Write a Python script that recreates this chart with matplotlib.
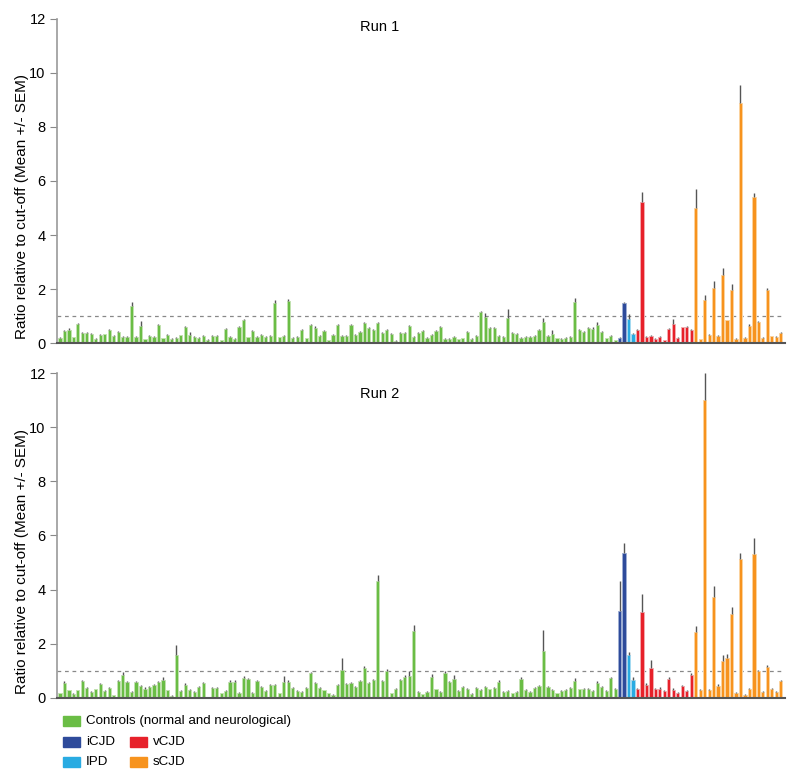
import numpy as np
import matplotlib.pyplot as plt
from matplotlib.patches import Rectangle

plt.rcParams['font.family'] = ['Liberation Sans', 'DejaVu Sans']

# ---- Run 1 ----
run1_controls = [
	0.2, 0.46, 0.5, 0.21, 0.69, 0.36, 0.36, 0.35, 0.16, 0.31,
	0.32, 0.47, 0.27, 0.41, 0.23, 0.22, 1.38, 0.23, 0.62, 0.14,
	0.27, 0.23, 0.67, 0.17, 0.31, 0.16, 0.19, 0.28, 0.58, 0.31,
	0.22, 0.19, 0.26, 0.12, 0.26, 0.26, 0.11, 0.53, 0.22, 0.16,
	0.59, 0.84, 0.21, 0.44, 0.23, 0.3, 0.22, 0.27, 1.49, 0.21,
	0.26, 1.56, 0.19, 0.23, 0.48, 0.17, 0.65, 0.56, 0.26, 0.43,
	0.1, 0.31, 0.67, 0.25, 0.26, 0.65, 0.31, 0.41, 0.73, 0.56,
	0.48, 0.74, 0.36, 0.48, 0.33, 0.09, 0.38, 0.38, 0.64, 0.22,
	0.37, 0.46, 0.19, 0.31, 0.43, 0.6, 0.16, 0.16, 0.23, 0.14,
	0.17, 0.42, 0.15, 0.25, 1.14, 0.95, 0.57, 0.57, 0.26, 0.22,
	0.94, 0.36, 0.35, 0.2, 0.23, 0.22, 0.26, 0.47, 0.79, 0.27,
	0.33, 0.17, 0.15, 0.19, 0.22, 1.51, 0.48, 0.41, 0.56, 0.52,
	0.68, 0.4, 0.17, 0.26, 0.11,
]
run1_controls_sem = [
	0.03, 0.04, 0.04, 0.03, 0.05, 0.03, 0.03, 0.03, 0.02, 0.03,
	0.03, 0.04, 0.03, 0.03, 0.03, 0.03, 0.14, 0.03, 0.21, 0.02,
	0.03, 0.03, 0.04, 0.02, 0.03, 0.02, 0.02, 0.03, 0.05, 0.1,
	0.03, 0.02, 0.03, 0.02, 0.03, 0.03, 0.02, 0.04, 0.03, 0.02,
	0.04, 0.05, 0.03, 0.04, 0.03, 0.03, 0.03, 0.03, 0.12, 0.03,
	0.03, 0.07, 0.02, 0.03, 0.04, 0.02, 0.05, 0.08, 0.03, 0.04,
	0.02, 0.03, 0.04, 0.03, 0.03, 0.04, 0.03, 0.03, 0.05, 0.04,
	0.04, 0.05, 0.03, 0.05, 0.03, 0.02, 0.03, 0.03, 0.04, 0.03,
	0.03, 0.04, 0.02, 0.03, 0.04, 0.04, 0.02, 0.02, 0.03, 0.02,
	0.02, 0.04, 0.02, 0.03, 0.04, 0.15, 0.04, 0.04, 0.03, 0.03,
	0.32, 0.03, 0.03, 0.02, 0.03, 0.03, 0.03, 0.04, 0.14, 0.03,
	0.15, 0.02, 0.02, 0.02, 0.03, 0.14, 0.04, 0.03, 0.05, 0.06,
	0.11, 0.04, 0.02, 0.03, 0.02,
]
run1_icjd = [0.2, 1.48]
run1_icjd_sem = [0.03, 0.03]
run1_ipd = [0.89, 0.32]
run1_ipd_sem = [0.2, 0.04]
run1_vcjd = [0.48, 5.23, 0.22, 0.26, 0.15, 0.22, 0.1, 0.51, 0.7, 0.19, 0.58, 0.6, 0.48]
run1_vcjd_sem = [0.05, 0.38, 0.03, 0.03, 0.02, 0.03, 0.02, 0.05, 0.18, 0.02, 0.03, 0.03, 0.03]
run1_scjd = [5.01, 0.14, 1.59, 0.3, 2.05, 0.26, 2.52, 0.84, 1.98, 0.15,
	8.9, 0.2, 0.62, 5.4, 0.77, 0.2, 1.98, 0.25, 0.23, 0.38]
run1_scjd_sem = [0.69, 0.02, 0.2, 0.03, 0.23, 0.03, 0.26, 0.03, 0.2, 0.02,
	0.65, 0.02, 0.08, 0.14, 0.05, 0.02, 0.05, 0.02, 0.02, 0.03]

# ---- Run 2 ----
run2_controls = [
	0.17, 0.54, 0.28, 0.15, 0.28, 0.62, 0.37, 0.21, 0.32, 0.53,
	0.27, 0.38, 0.1, 0.64, 0.86, 0.58, 0.22, 0.58, 0.44, 0.33,
	0.4, 0.47, 0.58, 0.67, 0.28, 0.09, 1.6, 0.26, 0.49, 0.3,
	0.22, 0.42, 0.54, 0.04, 0.37, 0.36, 0.17, 0.27, 0.6, 0.6,
	0.2, 0.73, 0.69, 0.19, 0.62, 0.41, 0.26, 0.47, 0.47, 0.17,
	0.58, 0.6, 0.37, 0.25, 0.23, 0.36, 0.91, 0.56, 0.38, 0.28,
	0.17, 0.12, 0.47, 1.04, 0.51, 0.54, 0.42, 0.62, 1.11, 0.54,
	0.65, 4.32, 0.64, 1.0, 0.17, 0.35, 0.65, 0.79, 0.83, 2.47,
	0.23, 0.14, 0.22, 0.77, 0.32, 0.23, 0.94, 0.58, 0.69, 0.26,
	0.41, 0.35, 0.16, 0.38, 0.3, 0.4, 0.32, 0.38, 0.6, 0.23,
	0.25, 0.17, 0.21, 0.7, 0.3, 0.22, 0.37, 0.44, 1.75, 0.41,
	0.3, 0.17, 0.27, 0.3, 0.38, 0.62, 0.32, 0.35, 0.33, 0.25,
	0.56, 0.41, 0.25, 0.74, 0.33,
]
run2_controls_sem = [
	0.03, 0.1, 0.03, 0.02, 0.03, 0.04, 0.03, 0.03, 0.03, 0.04,
	0.03, 0.03, 0.02, 0.04, 0.1, 0.04, 0.03, 0.04, 0.04, 0.07,
	0.04, 0.04, 0.05, 0.12, 0.03, 0.02, 0.36, 0.03, 0.08, 0.03,
	0.03, 0.04, 0.04, 0.01, 0.03, 0.03, 0.02, 0.03, 0.05, 0.05,
	0.03, 0.08, 0.04, 0.03, 0.04, 0.04, 0.03, 0.04, 0.04, 0.02,
	0.25, 0.05, 0.03, 0.03, 0.03, 0.03, 0.05, 0.04, 0.04, 0.03,
	0.02, 0.02, 0.04, 0.43, 0.04, 0.04, 0.03, 0.05, 0.07, 0.04,
	0.05, 0.22, 0.04, 0.06, 0.02, 0.03, 0.05, 0.06, 0.15, 0.24,
	0.03, 0.02, 0.03, 0.12, 0.03, 0.03, 0.06, 0.04, 0.15, 0.03,
	0.03, 0.03, 0.02, 0.03, 0.03, 0.04, 0.03, 0.03, 0.06, 0.03,
	0.03, 0.02, 0.03, 0.06, 0.03, 0.03, 0.03, 0.04, 0.77, 0.04,
	0.03, 0.02, 0.03, 0.03, 0.03, 0.1, 0.03, 0.03, 0.03, 0.03,
	0.07, 0.04, 0.03, 0.05, 0.03,
]
run2_icjd = [3.2, 5.36]
run2_icjd_sem = [1.11, 0.37]
run2_ipd = [1.59, 0.67]
run2_ipd_sem = [0.1, 0.12]
run2_vcjd = [0.32, 3.19, 0.48, 1.1, 0.32, 0.35, 0.26, 0.7, 0.31, 0.19, 0.43, 0.26, 0.85]
run2_vcjd_sem = [0.04, 0.64, 0.06, 0.31, 0.04, 0.04, 0.03, 0.08, 0.05, 0.04, 0.06, 0.04, 0.07]
run2_scjd = [2.42, 0.3, 11.0, 0.3, 3.73, 0.46, 1.35, 1.49, 3.11, 0.19,
	5.15, 0.11, 0.33, 5.33, 1.0, 0.23, 1.15, 0.33, 0.23, 0.63]
run2_scjd_sem = [0.22, 0.03, 1.0, 0.03, 0.41, 0.04, 0.25, 0.15, 0.26, 0.03,
	0.22, 0.02, 0.04, 0.58, 0.05, 0.03, 0.05, 0.04, 0.04, 0.04]

group_names = ['Controls (normal and neurological)', 'iCJD', 'IPD', 'vCJD', 'sCJD']
group_colors = ['#6abd45', '#2e4b9b', '#29abe2', '#e7212a', '#f7931e']
group_edges = ['#c2e2b0', '#9eaed4', '#a5dbf2', '#f4aaae', '#fcd39e']
cutoff = 1.0


def draw_run(ax, groups, sems, title):
	start = 0
	for vals, err, col, edge in zip(groups, sems, group_colors, group_edges):
		x = np.arange(start, start + len(vals))
		ax.bar(x, vals, width=0.72, color=col, edgecolor=edge, linewidth=0.7, zorder=2)
		ax.errorbar(x, vals, yerr=[np.zeros(len(err)), err], fmt='none',
			ecolor='#555555', elinewidth=1.0, capsize=0, zorder=3)
		start += len(vals)
	ax.axhline(cutoff, color='#888888', lw=0.9, ls=(0, (3, 3)), zorder=1)
	ax.set_xlim(-0.7, start - 0.1)
	ax.set_ylim(0, 12)
	ax.set_yticks(range(0, 13, 2))
	ax.set_xticks([])
	ax.tick_params(axis='y', labelsize=10.5, length=5, color='#888888', pad=3)
	for s in ['top', 'right']:
		ax.spines[s].set_visible(False)
	ax.spines['left'].set_color('#999999')
	ax.spines['left'].set_linewidth(1.2)
	ax.spines['bottom'].set_color('#555555')
	ax.spines['bottom'].set_linewidth(1.5)
	ax.set_ylabel('Ratio relative to cut-off (Mean +/- SEM)', fontsize=11)
	ax.yaxis.set_label_coords(-0.0385, 0.42)
	ax.text(0.444, title[1], title[0], transform=ax.transAxes, ha='center', va='center', fontsize=10.5)


fig = plt.figure(figsize=(8, 7.81), dpi=100)
ax1 = fig.add_axes([0.071, 0.5608, 0.91, 0.4149])
ax2 = fig.add_axes([0.071, 0.1063, 0.91, 0.4161])

draw_run(ax1,
	[run1_controls, run1_icjd, run1_ipd, run1_vcjd, run1_scjd],
	[run1_controls_sem, run1_icjd_sem, run1_ipd_sem, run1_vcjd_sem, run1_scjd_sem],
	('Run 1', 0.975))
draw_run(ax2,
	[run2_controls, run2_icjd, run2_ipd, run2_vcjd, run2_scjd],
	[run2_controls_sem, run2_icjd_sem, run2_ipd_sem, run2_vcjd_sem, run2_scjd_sem],
	('Run 2', 0.935))

# legend, laid out as in the original (one wide row, then two columns)
legend_slots = [(63, 721), (63, 742), (63, 762), (130, 742), (130, 762)]
W, H = 800, 781
for name, col, (px, py) in zip(group_names, group_colors, legend_slots):
	fig.add_artist(Rectangle((px / W, (H - py - 5) / H), 17 / W, 10 / H,
		transform=fig.transFigure, color=col))
	fig.text((px + 23) / W, (H - py) / H, name, fontsize=9.6, va='center', ha='left')

fig.savefig('out.png', dpi=100)
